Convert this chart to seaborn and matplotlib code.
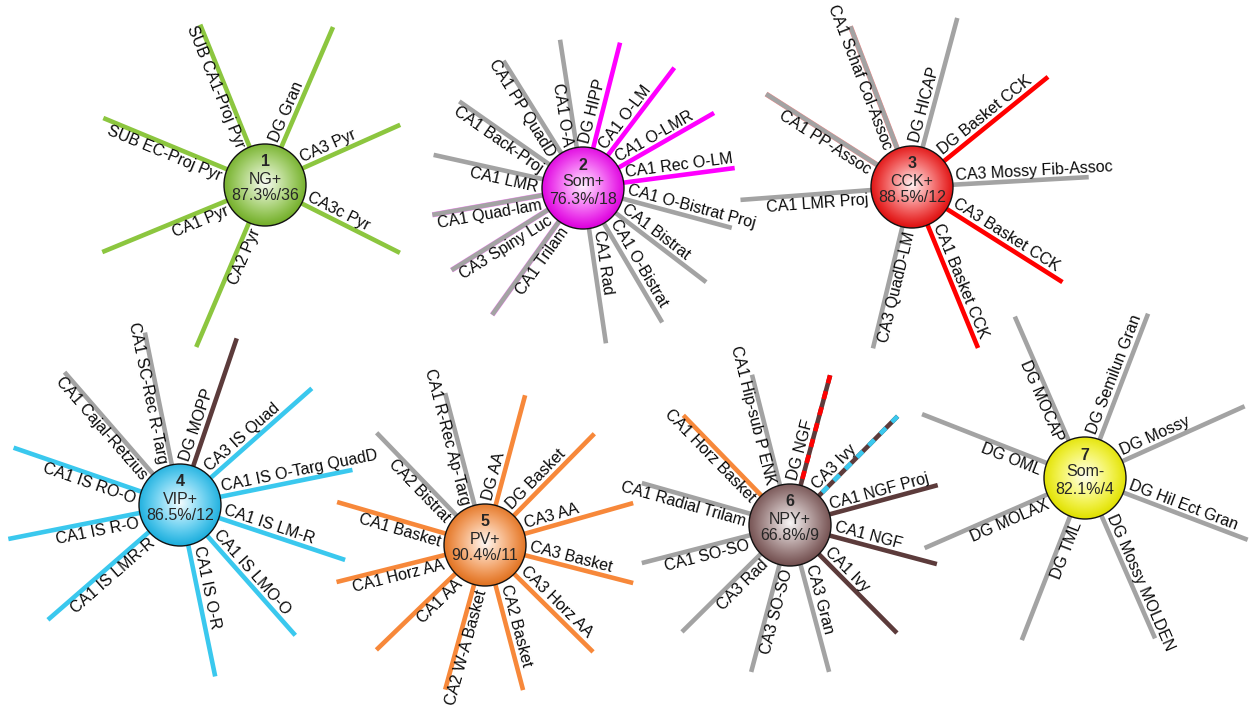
import numpy as np
import pandas as pd
import seaborn as sns
import matplotlib.pyplot as plt
from matplotlib.patches import Circle
from matplotlib.colors import to_rgb

sns.set_theme(style='white')
plt.rcParams['font.family'] = ['Liberation Sans', 'DejaVu Sans']

# hubs (one per marker group)
hub_ids = ['1', '2', '3', '4', '5', '6', '7']
hub_names = ['NG+', 'Som+', 'CCK+', 'VIP+', 'PV+', 'NPY+', 'Som-']
hub_scores = ['87.3%/36', '76.3%/18', '88.5%/12', '86.5%/12', '90.4%/11', '66.8%/9', '82.1%/4']
hub_keys = ['ng', 'som', 'cck', 'vip', 'pv', 'npy', 'somneg']

# spokes: neuron type, direction (deg), length (px), colour key
c1_names = ['SUB CA1-Proj Pyr', 'DG Gran', 'CA3 Pyr', 'CA3c Pyr', 'CA2 Pyr', 'CA1 Pyr', 'SUB EC-Proj Pyr']
c1_angles = [112, 66.7, 24, -26.7, -113, -157.6, 157.5]
c1_lengths = [173, 172, 148, 151, 176, 176, 175]
c1_colors = ['ng'] * 7

c2_names = ['CA1 O-A', 'DG HIPP', 'CA1 O-LM', 'CA1 O-LMR', 'CA1 Rec O-LM', 'CA1 O-Bistrat Proj',
            'CA1 Bistrat', 'CA1 O-Bistrat', 'CA1 Rad', 'CA1 Trilam', 'CA3 Spiny Luc',
            'CA1 Quad-lam', 'CA1 LMR', 'CA1 Back-Proj', 'CA1 PP QuadD']
c2_angles = [98.8, 75.7, 52.8, 29.8, 7.5, -15, -37.4, -59.5, -81.6, -125.6, -148, -169.9, 167.5, 145, 122]
c2_lengths = [150, 150, 151, 151, 153, 154, 155, 156, 157, 156, 155, 153, 153, 151, 150]
c2_colors = ['gray', 'som', 'som', 'som', 'som', 'gray', 'gray', 'gray', 'gray',
             'gray+som', 'gray+som', 'gray+som', 'gray', 'gray', 'gray']

c3_names = ['CA1 Schaf Col-Assoc', 'DG HICAP', 'DG Basket CCK', 'CA3 Mossy Fib-Assoc', 'CA3 Basket CCK',
            'CA1 Basket CCK', 'CA3 QuadD-LM', 'CA1 LMR Proj', 'CA1 PP-Assoc']
c3_angles = [111, 75, 39, 3.2, -32.3, -67.7, -103.6, -175.7, 147.5]
c3_lengths = [172, 175, 175, 177, 178, 174, 166, 172, 173]
c3_colors = ['gray+cck', 'gray', 'cck', 'gray', 'cck', 'cck', 'gray', 'gray', 'gray+cck']

c4_names = ['CA1 SC-Rec R-Targ', 'DG MOPP', 'CA3 IS Quad', 'CA1 IS O-Targ QuadD', 'CA1 IS LM-R',
            'CA1 IS LMO-O', 'CA1 IS O-R', 'CA1 IS LMR-R', 'CA1 IS R-O', 'CA1 IS RO-O', 'CA1 Cajal-Retzius']
c4_angles = [101.5, 71.2, 41.5, 11.5, -18.4, -48.5, -78.4, -139, -168.8, 161, 131]
c4_lengths = [176, 176, 176, 176, 174, 174, 175, 175, 175, 176, 176]
c4_colors = ['gray', 'npy', 'vip', 'vip', 'vip', 'vip', 'vip', 'vip', 'vip', 'vip', 'gray']

c5_names = ['CA1 R-Rec Ap-Targ', 'DG AA', 'DG Basket', 'CA3 AA', 'CA3 Basket', 'CA3 Horz AA',
            'CA2 Basket', 'CA2 W-A Basket', 'CA1 AA', 'CA1 Horz AA', 'CA1 Basket', 'CA2 Bistrat']
c5_angles = [104.7, 75, 45.5, 15.8, -14.4, -44.7, -75.3, -105.4, -136, -166, 163.8, 134]
c5_lengths = [157, 155, 156, 154, 153, 152, 150, 150, 151, 153, 154, 156]
c5_colors = ['gray'] + ['pv'] * 10 + ['gray']

c6_names = ['CA1 Hip-sub P ENK', 'DG NGF', 'CA3 Ivy', 'CA1 NGF Proj', 'CA1 NGF', 'CA1 Ivy',
            'CA3 Gran', 'CA3 SO-SO', 'CA3 Rad', 'CA1 SO-SO', 'CA1 Radial Trilam', 'CA1 Horz Basket']
c6_angles = [104.2, 75, 45.3, 15.1, -14.9, -45.3, -75.1, -104.8, -135.3, -165.6, 164.2, 134.2]
c6_lengths = [155, 155, 153, 153, 152, 152, 152, 152, 152, 153, 154, 153]
c6_colors = ['gray', 'npy~cck', 'npy~vip', 'npy', 'npy', 'npy', 'gray', 'gray', 'gray', 'gray', 'gray', 'pv']

c7_names = ['DG MOCAP', 'DG Semilun Gran', 'DG Mossy', 'DG Hil Ect Gran', 'DG Mossy MOLDEN',
            'DG TML', 'DG MOLAX', 'DG OML']
c7_angles = [113.5, 69, 24.2, -20.8, -66.4, -111.3, -156.4, 158.6]
c7_lengths = [176, 176, 175, 174, 175, 174, 175, 175]
c7_colors = ['gray'] * 8

# layout (pixel positions of hubs)
hub_xy = [(265, 185), (583, 188), (912, 187), (180, 505), (485, 545), (790, 525), (1085, 478)]
R = 41

line_col = {'ng': '#8cc63f', 'som': '#ff00ff', 'cck': '#ff0000', 'vip': '#3ac8ee',
            'pv': '#f7883a', 'npy': '#5c3b3b', 'gray': '#a3a3a3'}
ball_col = {'ng': '#7cbc2c', 'som': '#ee00ee', 'cck': '#f01010', 'vip': '#1fbcee',
            'pv': '#f27a22', 'npy': '#7c5656', 'somneg': '#f2f200'}

spokes = [(c1_names, c1_angles, c1_lengths, c1_colors),
          (c2_names, c2_angles, c2_lengths, c2_colors),
          (c3_names, c3_angles, c3_lengths, c3_colors),
          (c4_names, c4_angles, c4_lengths, c4_colors),
          (c5_names, c5_angles, c5_lengths, c5_colors),
          (c6_names, c6_angles, c6_lengths, c6_colors),
          (c7_names, c7_angles, c7_lengths, c7_colors)]

# build segment table
rows = []
extras = []
for h, (names, angs, lens, cols) in enumerate(spokes):
    cx, cy = hub_xy[h]
    for i in range(len(names)):
        a = np.radians(angs[i])
        ex, ey = cx + lens[i] * np.cos(a), cy - lens[i] * np.sin(a)
        key = cols[i]
        base = key.split('+')[0].split('~')[0]
        sid = f'{h}_{i}'
        rows.append({'sid': sid, 'x': cx, 'y': cy, 'col': line_col[base]})
        rows.append({'sid': sid, 'x': ex, 'y': ey, 'col': line_col[base]})
        if '+' in key:
            extras.append(('edge', cx, cy, ex, ey, line_col[key.split('+')[1]]))
        if '~' in key:
            extras.append(('dash', cx, cy, ex, ey, line_col[key.split('~')[1]]))
seg = pd.DataFrame(rows)
pal = dict(zip(seg['sid'], seg['col']))

fig = plt.figure(figsize=(12.57, 7.07), dpi=100)
ax = fig.add_axes([0, 0, 1, 1])

for kind, x0, y0, x1, y1, c in extras:
    if kind == 'edge':
        ax.plot([x0, x1], [y0, y1], color=c, lw=3.8, solid_capstyle='butt', zorder=1, alpha=0.45)

sns.lineplot(data=seg, x='x', y='y', hue='sid', units='sid', estimator=None, sort=False,
             palette=pal, legend=False, linewidth=3.3, ax=ax, zorder=2)
for line in ax.get_lines():
    line.set_solid_capstyle('butt')

for kind, x0, y0, x1, y1, c in extras:
    if kind == 'dash':
        ax.plot([x1, x0], [y1, y0], color=c, lw=3.3, dashes=(1.8, 1.8), dash_capstyle='butt', zorder=3)

# labels along spokes
for h, (names, angs, lens, cols) in enumerate(spokes):
    cx, cy = hub_xy[h]
    for i in range(len(names)):
        th = angs[i]
        a = np.radians(th)
        n = np.radians(th + 90)
        d = R + 3
        off = 2.0
        tx = cx + d * np.cos(a) + off * np.cos(n)
        ty = cy - d * np.sin(a) - off * np.sin(n)
        if abs(th) <= 90:
            ax.text(tx, ty, names[i], rotation=th, rotation_mode='anchor', ha='left', va='bottom',
                    fontsize=11.5, color='#0a0a0a', zorder=6)
        else:
            ax.text(tx, ty, names[i], rotation=th + 180, rotation_mode='anchor', ha='right', va='top',
                    fontsize=11.5, color='#0a0a0a', zorder=6)

# shaded hubs
g = np.linspace(-1, 1, 240)
gx, gy = np.meshgrid(g, g)
dist = np.clip(np.sqrt(gx ** 2 + (gy + 0.05) ** 2) / 1.05, 0, 1)
for h in range(len(hub_xy)):
    cx, cy = hub_xy[h]
    edge = np.array(to_rgb(ball_col[hub_keys[h]]))
    w = (1 - dist) ** 1.1 * 0.95
    img = edge[None, None, :] * (1 - w[..., None]) + w[..., None]
    img = img * (1 - 0.08 * dist[..., None] ** 3)
    im = ax.imshow(np.clip(img, 0, 1), extent=(cx - R, cx + R, cy + R, cy - R), origin='upper',
                   zorder=4, interpolation='bilinear')
    clip = Circle((cx, cy), R, transform=ax.transData)
    im.set_clip_path(clip)
    ax.add_patch(Circle((cx, cy), R, fill=False, edgecolor='#111111', lw=1.0, zorder=5))
    ax.text(cx, cy - 23, hub_ids[h], ha='center', va='center', fontsize=11.5, fontweight='bold', zorder=6)
    ax.text(cx, cy - 6, hub_names[h], ha='center', va='center', fontsize=11.5, zorder=6)
    ax.text(cx, cy + 11, hub_scores[h], ha='center', va='center', fontsize=11.5, zorder=6)

ax.set_xlim(0, 1257)
ax.set_ylim(707, 0)
ax.set_aspect('auto')
ax.axis('off')

fig.savefig('out.png', dpi=100, facecolor='white')
